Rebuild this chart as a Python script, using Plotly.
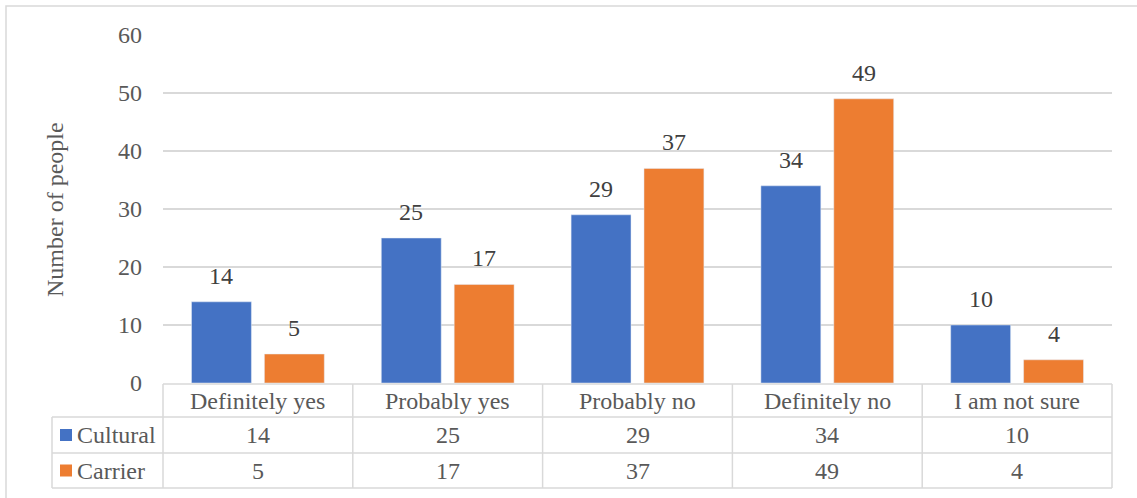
import plotly.graph_objects as go

categories = ["Definitely yes", "Probably yes", "Probably no", "Definitely no", "I am not sure"]
cultural = [14, 25, 29, 34, 10]
carrier = [5, 17, 37, 49, 4]
series_names = ["Cultural", "Carrier"]
y_ticks = [0, 10, 20, 30, 40, 50, 60]
y_title = "Number of people"

W, H = 1137, 498
L, R, T, B = 163, 25, 35, 115
PW, PH = W - L - R, H - T - B

def px(xp):
    return (xp - L) / PW

def py(yp):
    return (H - B - yp) / PH

FONT = "Liberation Serif"
GRID = "#d9d9d9"
TXT = "#595959"
BLUE = "#4472C4"
ORANGE = "#ED7D31"
FS = 24

fig = go.Figure()
fig.add_trace(go.Bar(x=categories, y=cultural, name=series_names[0], marker_color=BLUE))
fig.add_trace(go.Bar(x=categories, y=carrier, name=series_names[1], marker_color=ORANGE))

shapes = []
line = dict(color=GRID, width=1.5)
shapes.append(dict(type="rect", xref="paper", yref="paper", x0=px(6), x1=px(1145), y0=py(505), y1=py(6),
                   line=dict(color=GRID, width=1.5), layer="below"))
row_y = [384, 417, 453, 488]
shapes.append(dict(type="line", xref="paper", yref="paper", x0=0, x1=1, y0=py(row_y[0]), y1=py(row_y[0]), line=line))
for yy in row_y[1:]:
    shapes.append(dict(type="line", xref="paper", yref="paper", x0=px(52), x1=1, y0=py(yy), y1=py(yy), line=line))
n = len(categories)
for i in range(n + 1):
    shapes.append(dict(type="line", xref="paper", yref="paper", x0=i / n, x1=i / n,
                       y0=py(row_y[0]), y1=py(row_y[-1]), line=line))
shapes.append(dict(type="line", xref="paper", yref="paper", x0=px(52), x1=px(52),
                   y0=py(row_y[1]), y1=py(row_y[-1]), line=line))
for k, col in enumerate([BLUE, ORANGE]):
    yc = (row_y[k + 1] + row_y[k + 2]) / 2
    shapes.append(dict(type="rect", xref="paper", yref="paper", x0=px(60), x1=px(72),
                       y0=py(yc + 6), y1=py(yc - 6), fillcolor=col, line=dict(width=0)))

annotations = []
tf = dict(family=FONT, size=FS, color=TXT)
slot_shift = 36.5
for sgn, vals in [(-1, cultural), (1, carrier)]:
    for c, v in zip(categories, vals):
        annotations.append(dict(x=c, y=v, xref="x", yref="y", text=str(v), showarrow=False,
                                xshift=sgn * slot_shift, yshift=26, xanchor="center", yanchor="middle",
                                font=dict(family=FONT, size=FS, color="#404040")))
hdr_y = py((row_y[0] + row_y[1]) / 2)
for i, c in enumerate(categories):
    annotations.append(dict(x=(i + 0.5) / n, y=hdr_y, xref="paper", yref="paper", text=c,
                            showarrow=False, font=tf, xanchor="center", yanchor="middle"))
for k, (nm, vals) in enumerate(zip(series_names, [cultural, carrier])):
    yc = py((row_y[k + 1] + row_y[k + 2]) / 2)
    annotations.append(dict(x=px(75), y=yc, xref="paper", yref="paper", text=nm, showarrow=False,
                            font=tf, xanchor="left", yanchor="middle"))
    for i, v in enumerate(vals):
        annotations.append(dict(x=(i + 0.5) / n, y=yc, xref="paper", yref="paper", text=str(v),
                                showarrow=False, font=tf, xanchor="center", yanchor="middle"))
annotations.append(dict(x=px(55), y=py(210), xref="paper", yref="paper", text=y_title, textangle=-90,
                        showarrow=False, font=dict(family=FONT, size=FS, color=TXT),
                        xanchor="center", yanchor="middle"))

fig.update_layout(
    width=W, height=H, autosize=False,
    margin=dict(l=L, r=R, t=T, b=B, pad=0),
    paper_bgcolor="white", plot_bgcolor="white",
    barmode="group", bargap=0.232, bargroupgap=0.178,
    showlegend=False,
    font=dict(family=FONT, color=TXT),
    shapes=shapes, annotations=annotations,
)
fig.update_xaxes(showticklabels=False, showgrid=False, zeroline=False, showline=False, ticks="")
fig.update_yaxes(range=[0, 60], tickvals=y_ticks, showgrid=True, gridcolor=GRID, gridwidth=1.5,
                 zeroline=False, showline=False, ticks="", ticklabelstandoff=20,
                 tickfont=dict(family=FONT, size=FS, color=TXT))

fig.write_html("out.html")
